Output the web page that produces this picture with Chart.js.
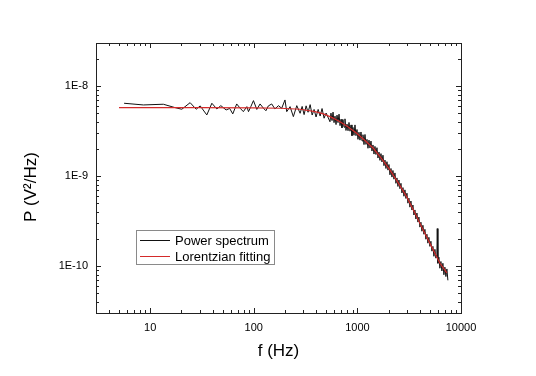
<!DOCTYPE html>
<html>
<head>
<meta charset="utf-8">
<script src="https://cdn.jsdelivr.net/npm/chart.js@4.4.1/dist/chart.umd.min.js"></script>
<style>
  html, body { margin: 0; padding: 0; background: #fff; }
  #wrap { width: 536px; height: 376px; }
</style>
</head>
<body>
<div id="wrap"><canvas id="psd"></canvas></div>
<script>
// measured power spectrum, f in Hz, P in V^2/Hz
const specFreq = [
  5.6, 8.6, 13.4, 17.4, 20.2, 24.3, 27.8, 30.4, 35.2, 39.4, 44, 48.1, 54.1, 58.5, 62.7, 68.4, 73.9, 79.3,
  85.7, 88.9, 94, 99.3, 107, 115, 124, 131, 138, 149, 160, 173, 186, 200, 208, 224, 241, 260,
  280, 293, 306, 320, 334, 350, 366, 382, 399, 418, 437, 456, 477, 499,
  544, 556, 569, 582, 595, 608, 622, 636, 650, 665, 680, 695, 710, 726, 743, 759, 776, 794, 812, 830,
  849, 868, 887, 907, 927, 948, 969, 991, 1013, 1036, 1059, 1083, 1108, 1132, 1158, 1184, 1210, 1238,
  1265, 1294, 1323, 1353, 1383, 1414, 1446, 1478, 1511, 1545, 1580, 1616, 1652, 1689, 1727, 1766,
  1805, 1846, 1887, 1929, 1973, 2017, 2062, 2109, 2156, 2204, 2254, 2304, 2356, 2409, 2463, 2518,
  2575, 2633, 2692, 2752, 2814, 2877, 2942, 3008, 3075, 3144, 3215, 3287, 3361, 3436, 3513, 3592,
  3673, 3755, 3840, 3926, 4014, 4104, 4196, 4290, 4387, 4485, 4586, 4689, 4794, 4902, 5012, 5124,
  5239, 5357, 5477, 5600, 5726, 5854, 5900, 5986, 6120, 6257, 6398, 6542, 6688, 6839, 6992, 7149,
  7309, 7474
];
const specPower = [
  6.42e-9, 6.15e-9, 6.26e-9, 5.74e-9, 5.51e-9, 6.52e-9, 5.51e-9, 6.00e-9, 4.76e-9, 6.42e-9, 5.55e-9, 6.04e-9,
  5.41e-9, 5.62e-9, 4.89e-9, 6.31e-9, 5.65e-9, 5.18e-9, 5.89e-9, 5.18e-9, 5.95e-9, 6.87e-9, 5.48e-9, 6.31e-9,
  5.65e-9, 5.30e-9, 5.99e-9, 6.31e-9, 5.55e-9, 6.04e-9, 5.65e-9, 6.99e-9, 5.18e-9, 5.89e-9, 4.56e-9, 6.04e-9,
  4.97e-9, 5.92e-9, 4.80e-9, 6.01e-9, 5.10e-9, 6.20e-9, 4.75e-9, 5.48e-9, 4.52e-9, 5.48e-9,
  4.63e-9, 5.61e-9, 4.38e-9, 5.00e-9,
  4.00e-9, 4.99e-9, 4.12e-9, 5.12e-9, 3.91e-9, 4.62e-9, 3.72e-9, 4.74e-9, 3.91e-9, 4.86e-9,
  3.62e-9, 4.26e-9, 3.42e-9, 4.23e-9, 3.48e-9, 4.31e-9, 3.20e-9, 3.77e-9, 3.18e-9, 3.93e-9,
  3.14e-9, 3.69e-9, 2.80e-9, 3.46e-9, 2.83e-9, 3.69e-9, 2.80e-9, 3.28e-9, 2.55e-9, 3.06e-9,
  2.50e-9, 3.08e-9, 2.45e-9, 2.87e-9, 2.23e-9, 2.89e-9, 2.24e-9, 2.55e-9, 2.03e-9, 2.50e-9,
  2.04e-9, 2.44e-9, 1.89e-9, 2.21e-9, 1.75e-9, 2.13e-9, 1.73e-9, 2.06e-9, 1.58e-9, 1.84e-9,
  1.49e-9, 1.77e-9, 1.43e-9, 1.70e-9, 1.30e-9, 1.50e-9, 1.21e-9, 1.44e-9, 1.16e-9, 1.34e-9,
  1.03e-9, 1.21e-9, 9.71e-10, 1.15e-9, 9.20e-10, 1.08e-9, 8.28e-10, 9.51e-10, 7.64e-10, 9.00e-10,
  7.21e-10, 8.28e-10, 6.47e-10, 7.42e-10, 5.95e-10, 7.00e-10, 5.62e-10, 6.43e-10, 4.98e-10, 5.66e-10,
  4.50e-10, 5.26e-10, 4.18e-10, 4.75e-10, 3.68e-10, 4.19e-10, 3.32e-10, 3.87e-10, 3.07e-10, 3.49e-10,
  2.70e-10, 3.06e-10, 2.43e-10, 2.83e-10, 2.25e-10, 2.55e-10, 1.98e-10, 2.25e-10, 1.79e-10, 2.08e-10,
  1.65e-10, 1.88e-10, 1.46e-10, 1.65e-10, 1.28e-10, 1.53e-10, 1.22e-10, 1.35e-10, 2.60e-10,
  1.07e-10, 1.25e-10, 9.43e-11, 1.12e-10, 8.79e-11, 1.07e-10, 7.98e-11, 9.69e-11, 7.62e-11, 9.26e-11, 6.92e-11
];
// lorentzian fit
const fitFreq = [5, 30, 100, 180, 280, 390, 470, 565, 680, 815, 985, 1185, 1425, 1715, 2060, 2480, 2985, 3590, 4315, 5200, 6260, 7300];
const fitPower = [
  5.74e-9, 5.74e-9, 5.71e-9, 5.65e-9, 5.51e-9, 5.18e-9, 4.89e-9, 4.47e-9, 4.01e-9, 3.50e-9, 2.98e-9,
  2.48e-9, 2.03e-9, 1.56e-9, 1.17e-9, 8.36e-10, 5.89e-10, 3.88e-10, 2.51e-10, 1.64e-10, 1.07e-10, 8.36e-11
];
const seriesNames = ["Power spectrum", "Lorentzian fitting"];
const xTicks = [10, 100, 1000, 10000];
const yTicks = [1e-10, 1e-9, 1e-8];

const FONT = "'Liberation Sans', Arial, sans-serif";
const toPoints = (xs, ys) => xs.map((f, i) => ({ x: f, y: ys[i] }));

// 1..9 x 10^k values between lo and hi, for the inward tick marks
function logSteps(lo, hi) {
  const out = [];
  for (let k = Math.floor(Math.log10(lo)) - 1; k <= Math.ceil(Math.log10(hi)); k++) {
    for (let d = 1; d <= 9; d++) {
      const v = d * Math.pow(10, k);
      if (v >= lo * 0.999 && v <= hi * 1.001) out.push([v, d === 1]);
    }
  }
  return out;
}

const frameTicks = {
  id: "frameTicks",
  afterDatasetsDraw(chart) {
    const { ctx, chartArea: a, scales: { x, y } } = chart;
    ctx.save();
    ctx.strokeStyle = "#222";
    ctx.lineWidth = 1;
    ctx.beginPath();
    logSteps(x.min, x.max).forEach(([v, major]) => {
      const p = Math.round(x.getPixelForValue(v)) + 0.5;
      const len = major ? 5 : 3;
      ctx.moveTo(p, a.bottom); ctx.lineTo(p, a.bottom - len);
      ctx.moveTo(p, a.top); ctx.lineTo(p, a.top + len);
    });
    logSteps(y.min, y.max).forEach(([v, major]) => {
      const p = Math.round(y.getPixelForValue(v)) + 0.5;
      const len = major ? 5 : 3;
      ctx.moveTo(a.left, p); ctx.lineTo(a.left + len, p);
      ctx.moveTo(a.right, p); ctx.lineTo(a.right - len, p);
    });
    ctx.stroke();
    ctx.strokeRect(Math.round(a.left) + 0.5, Math.round(a.top) + 0.5,
      Math.round(a.right - a.left), Math.round(a.bottom - a.top));

    // legend box inside the plot
    const lx = 136, ly = 230, lw = 138, lh = 34;
    ctx.strokeStyle = "#8a8a8a";
    ctx.strokeRect(lx + 0.5, ly + 0.5, lw, lh);
    ctx.font = "13px " + FONT;
    ctx.textBaseline = "middle";
    ctx.fillStyle = "#000";
    chart.data.datasets.forEach((ds, i) => {
      const yy = ly + 10.5 + i * 16;
      ctx.strokeStyle = ds.borderColor;
      ctx.lineWidth = 1;
      ctx.beginPath();
      ctx.moveTo(lx + 4, yy); ctx.lineTo(lx + 34, yy);
      ctx.stroke();
      ctx.fillText(ds.label, lx + 39, yy + 0.5);
    });

    // axis titles
    ctx.font = "17px " + FONT;
    ctx.textAlign = "center";
    ctx.fillText("f (Hz)", (a.left + a.right) / 2, 351);
    ctx.translate(31, 187);
    ctx.rotate(-Math.PI / 2);
    ctx.fillText("P (V\u00B2/Hz)", 0, 0);
    ctx.restore();
  }
};

new Chart(document.getElementById("psd"), {
  type: "scatter",
  data: {
    datasets: [
      {
        label: seriesNames[0],
        data: toPoints(specFreq, specPower),
        showLine: true,
        borderColor: "#111",
        borderWidth: 1,
        pointRadius: 0,
        order: 1,
      },
      {
        label: seriesNames[1],
        data: toPoints(fitFreq, fitPower),
        showLine: true,
        borderColor: "#d42a2a",
        borderWidth: 1.2,
        pointRadius: 0,
        order: 0,
      },
    ],
  },
  options: {
    responsive: true,
    maintainAspectRatio: false,
    animation: false,
    layout: { padding: { top: 43, right: 75, left: 0, bottom: 0 } },
    plugins: { legend: { display: false }, tooltip: { enabled: false } },
    scales: {
      x: {
        type: "logarithmic",
        min: 3,
        max: 10000,
        afterFit: (s) => { s.height = 63; },
        afterBuildTicks: (s) => { s.ticks = xTicks.map((v) => ({ value: v })); },
        grid: { display: false, drawTicks: false, tickLength: 0 },
        border: { display: false },
        ticks: {
          autoSkip: false,
          maxRotation: 0,
          padding: 8,
          color: "#000",
          font: { size: 11, family: FONT },
          callback: (v) => String(v),
        },
      },
      y: {
        type: "logarithmic",
        min: 3e-11,
        max: 3e-8,
        afterFit: (s) => { s.width = 96; },
        afterBuildTicks: (s) => { s.ticks = yTicks.map((v) => ({ value: v })); },
        grid: { display: false, drawTicks: false, tickLength: 0 },
        border: { display: false },
        ticks: {
          autoSkip: false,
          padding: 8,
          color: "#000",
          font: { size: 11, family: FONT },
          callback: (v) => "1E" + Math.round(Math.log10(v)),
        },
      },
    },
  },
  plugins: [frameTicks],
});
</script>
</body>
</html>
